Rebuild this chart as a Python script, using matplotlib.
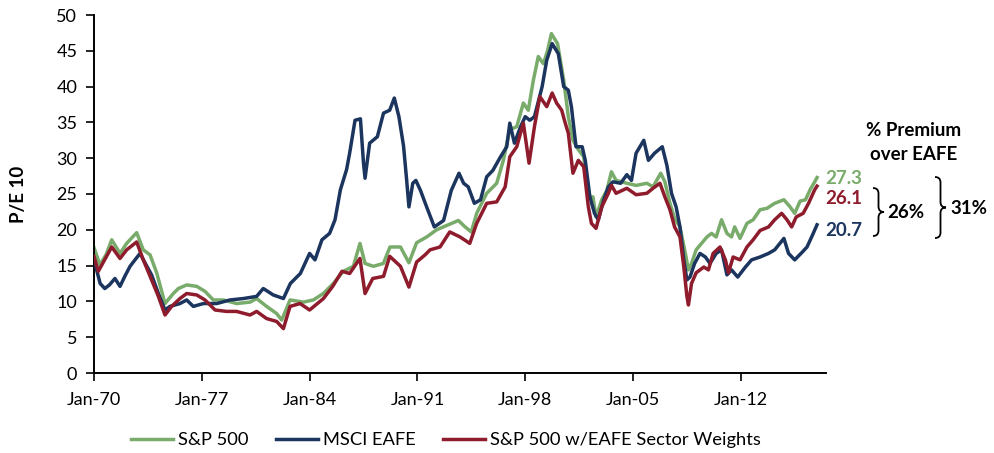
import matplotlib
matplotlib.use("Agg")
import matplotlib.pyplot as plt
from matplotlib.path import Path
from matplotlib.patches import PathPatch

plt.rcParams['font.family'] = ['Lato', 'DejaVu Sans']

# ---------------- data ----------------
sp_dates = [1970.0, 1970.39, 1970.8, 1971.15, 1971.69, 1972.12, 1972.77, 1973.2, 1973.64, 1974.07,
            1974.61, 1975.15, 1975.48, 1976.02, 1976.67, 1977.21, 1977.75, 1978.4, 1979.26, 1980.13,
            1980.56, 1981.21, 1981.86, 1982.19, 1982.73, 1983.6, 1984.24, 1984.89, 1985.54, 1986.19,
            1986.84, 1987.27, 1987.6, 1988.14, 1988.79, 1989.22, 1989.9, 1990.45, 1990.95, 1991.6,
            1992.25, 1992.9, 1993.66, 1994.1, 1994.5, 1994.85, 1995.5, 1996.15, 1996.58, 1997.0,
            1997.45, 1997.88, 1998.2, 1998.53, 1998.85, 1999.18, 1999.45, 1999.7, 2000.1, 2000.5,
            2000.8, 2001.1, 2001.45, 2001.8, 2002.1, 2002.4, 2002.6, 2002.97, 2003.3, 2003.6,
            2003.9, 2004.6, 2005.2, 2005.9, 2006.3, 2006.8, 2007.07, 2007.4, 2007.7, 2008.05,
            2008.4, 2008.6, 2008.8, 2009.1, 2009.45, 2009.8, 2010.1, 2010.4, 2010.75, 2011.1,
            2011.4, 2011.6, 2011.95, 2012.4, 2012.8, 2013.25, 2013.7, 2014.2, 2014.8, 2015.2,
            2015.5, 2015.85, 2016.2, 2016.5, 2016.8, 2016.95]
sp_vals = [17.5, 15.1, 16.6, 18.6, 16.7, 18.1, 19.6, 17.2, 16.5, 14.0,
           9.7, 11.1, 11.8, 12.3, 12.1, 11.4, 10.2, 10.2, 9.7, 9.9,
           10.4, 9.3, 8.3, 7.4, 10.2, 9.9, 10.2, 11.1, 12.5, 14.2,
           14.9, 18.1, 15.3, 14.9, 15.3, 17.6, 17.6, 15.4, 18.2, 19.0,
           20.0, 20.6, 21.3, 20.4, 19.7, 22.3, 25.1, 26.5, 29.7, 34.0,
           34.4, 37.7, 36.7, 40.9, 44.2, 43.2, 45.0, 47.4, 46.0, 40.9,
           35.8, 32.5, 31.2, 30.2, 24.6, 24.6, 21.8, 24.2, 25.5, 28.1,
           26.9, 26.5, 26.2, 26.5, 26.0, 27.9, 26.7, 23.7, 21.6, 20.4,
           16.7, 14.4, 15.3, 17.2, 18.1, 19.0, 19.5, 19.0, 21.4, 19.5,
           19.0, 20.4, 18.8, 20.9, 21.4, 22.8, 23.0, 23.7, 24.2, 23.2,
           22.3, 24.0, 24.2, 25.6, 26.7, 27.3]

eafe_dates = [1970.0, 1970.4, 1970.7, 1971.0, 1971.36, 1971.69, 1972.0, 1972.34, 1972.66, 1972.99,
              1973.31, 1973.74, 1974.18, 1974.61, 1974.93, 1975.58, 1976.02, 1976.45, 1977.1, 1977.97,
              1978.83, 1979.7, 1980.56, 1980.99, 1981.64, 1982.3, 1982.75, 1983.4, 1983.7, 1984.0,
              1984.35, 1984.8, 1985.3, 1985.65, 1986.0, 1986.4, 1986.6, 1986.95, 1987.3, 1987.5,
              1987.6, 1987.9, 1988.4, 1988.8, 1989.2, 1989.5, 1989.8, 1990.1, 1990.3, 1990.45,
              1990.7, 1990.9, 1991.2, 1991.6, 1992.1, 1992.7, 1993.2, 1993.7, 1994.0, 1994.3,
              1994.7, 1995.1, 1995.5, 1995.9, 1996.4, 1996.8, 1997.0, 1997.3, 1997.7, 1998.0,
              1998.3, 1998.6, 1999.1, 1999.4, 1999.75, 2000.15, 2000.5, 2000.8, 2001.0, 2001.3,
              2001.7, 2001.9, 2002.2, 2002.5, 2002.75, 2003.1, 2003.4, 2003.7, 2004.2, 2004.6,
              2004.9, 2005.2, 2005.7, 2006.0, 2006.4, 2006.9, 2007.2, 2007.5, 2007.8, 2008.05,
              2008.3, 2008.5, 2008.7, 2009.0, 2009.35, 2009.7, 2010.0, 2010.4, 2010.75, 2011.1,
              2011.4, 2011.8, 2012.3, 2012.7, 2013.25, 2013.8, 2014.2, 2014.8, 2015.1, 2015.5,
              2016.0, 2016.3, 2016.6, 2016.95]
eafe_vals = [15.8, 12.5, 11.8, 12.3, 13.2, 12.1, 13.5, 14.9, 15.8, 16.7,
             15.4, 13.7, 11.1, 8.8, 9.3, 9.7, 10.2, 9.3, 9.7, 9.7,
             10.2, 10.4, 10.7, 11.8, 10.9, 10.4, 12.5, 13.9, 15.3, 16.7,
             15.8, 18.6, 19.5, 21.4, 25.6, 28.4, 30.7, 35.3, 35.5, 29.3,
             27.2, 32.1, 33.0, 36.3, 36.7, 38.4, 35.8, 31.7, 27.0, 23.2,
             26.5, 26.9, 25.5, 23.2, 20.4, 21.3, 25.5, 27.9, 26.5, 26.0,
             23.7, 24.2, 27.4, 28.3, 30.2, 31.6, 34.9, 32.1, 34.4, 35.8,
             35.3, 35.8, 40.0, 43.7, 46.0, 44.6, 40.0, 39.5, 37.2, 31.6,
             31.6, 29.7, 24.6, 22.3, 21.4, 24.2, 26.0, 26.7, 26.5, 27.7,
             26.9, 30.7, 32.5, 29.7, 30.7, 31.6, 29.0, 25.1, 23.2, 20.4,
             15.8, 13.0, 13.4, 15.3, 16.7, 16.2, 15.3, 16.7, 17.2, 13.7,
             14.4, 13.4, 14.8, 15.8, 16.2, 16.7, 17.2, 18.8, 16.7, 15.8,
             16.9, 17.6, 19.0, 20.7]

spw_dates = [1970.0, 1970.28, 1971.15, 1971.69, 1972.12, 1972.77, 1973.2, 1973.74, 1974.18, 1974.61,
             1975.04, 1975.58, 1976.02, 1976.67, 1977.21, 1977.86, 1978.61, 1979.26, 1980.13, 1980.56,
             1981.21, 1981.86, 1982.3, 1982.73, 1983.38, 1984.0, 1984.9, 1985.5, 1986.1, 1986.6,
             1987.27, 1987.6, 1988.1, 1988.8, 1989.2, 1989.9, 1990.45, 1990.95, 1991.5, 1991.82,
             1992.47, 1993.1, 1993.77, 1994.4, 1994.85, 1995.5, 1996.15, 1996.7, 1997.0, 1997.45,
             1997.88, 1998.25, 1998.6, 1998.95, 1999.4, 1999.75, 2000.04, 2000.37, 2000.6, 2000.8,
             2001.1, 2001.45, 2001.8, 2002.1, 2002.3, 2002.6, 2002.97, 2003.4, 2003.6, 2003.9,
             2004.6, 2005.2, 2005.9, 2006.3, 2006.75, 2007.07, 2007.4, 2007.7, 2008.05, 2008.3,
             2008.5, 2008.6, 2008.8, 2009.1, 2009.6, 2009.9, 2010.2, 2010.65, 2011.0, 2011.2,
             2011.5, 2011.95, 2012.4, 2012.8, 2013.25, 2013.8, 2014.2, 2014.65, 2015.0, 2015.3,
             2015.6, 2016.05, 2016.4, 2016.8, 2016.95]
spw_vals = [16.3, 14.2, 17.6, 16.0, 17.2, 18.3, 15.8, 13.0, 10.7, 8.1,
            9.3, 10.4, 11.1, 10.9, 10.2, 8.8, 8.6, 8.6, 8.1, 8.6,
            7.6, 7.2, 6.2, 9.3, 9.7, 8.8, 10.4, 12.1, 14.2, 13.9,
            16.0, 11.1, 13.2, 13.5, 16.3, 14.9, 12.0, 15.5, 16.5, 17.2,
            17.6, 19.7, 19.0, 18.1, 20.9, 23.7, 23.9, 26.0, 30.2, 31.6,
            34.9, 29.3, 34.4, 38.6, 37.2, 39.1, 37.7, 36.7, 34.9, 33.5,
            27.9, 29.7, 28.8, 23.2, 20.9, 20.2, 23.2, 25.1, 26.2, 25.1,
            25.8, 24.9, 25.1, 25.8, 26.5, 24.6, 22.8, 20.4, 19.0, 14.8,
            10.7, 9.5, 12.5, 14.0, 14.8, 14.4, 16.7, 17.6, 15.8, 14.0,
            16.2, 15.8, 17.6, 18.6, 19.9, 20.4, 21.4, 22.3, 21.4, 20.4,
            21.8, 22.3, 23.7, 25.6, 26.1]

series_names = ["S&P 500", "MSCI EAFE", "S&P 500 w/EAFE Sector Weights"]
end_labels = ["27.3", "26.1", "20.7"]
premium_labels = ["26%", "31%"]
tick_years = [1970, 1977, 1984, 1991, 1998, 2005, 2012]
tick_labels = ["Jan-70", "Jan-77", "Jan-84", "Jan-91", "Jan-98", "Jan-05", "Jan-12"]

GREEN = "#79AB6B"
BLUE = "#1B355E"
RED = "#8E1C2C"

W, H = 994, 453
fig = plt.figure(figsize=(W / 100, H / 100), dpi=100)
ax = fig.add_axes([94 / W, 80 / H, 731.5 / W, 358 / H])

lw = 2.5
ln_sp, = ax.plot(sp_dates, sp_vals, color=GREEN, lw=lw, label=series_names[0], zorder=2)
ln_eafe, = ax.plot(eafe_dates, eafe_vals, color=BLUE, lw=lw, label=series_names[1], zorder=3)
ln_spw, = ax.plot(spw_dates, spw_vals, color=RED, lw=lw, label=series_names[2], zorder=4)

ax.set_xlim(1970, 2017.5)
ax.set_ylim(0, 50)
ax.set_yticks(range(0, 51, 5))
ax.set_xticks(tick_years)
ax.set_xticklabels(tick_labels)
for s in ["top", "right"]:
    ax.spines[s].set_visible(False)
for s in ["left", "bottom"]:
    ax.spines[s].set_linewidth(1.4)
    ax.spines[s].set_color("black")
ax.tick_params(axis="both", direction="out", length=6, width=1.2, labelsize=13,
               colors="black")
ax.tick_params(axis="y", pad=6)
ax.tick_params(axis="x", pad=8)
ax.set_ylabel("P/E 10", fontsize=13.5, fontweight="bold")
ax.yaxis.set_label_coords((27 - 94) / 731.5, 0.5)

fig.legend(handles=[ln_sp, ln_eafe, ln_spw], loc="center", bbox_to_anchor=(446 / W, 1 - 440 / H),
           ncol=3, frameon=False, fontsize=13.2, handlelength=2.3, columnspacing=1.5,
           handletextpad=0.25)

# overlay in pixel coords for annotations
ov = fig.add_axes([0, 0, 1, 1], facecolor="none")
ov.set_xlim(0, W)
ov.set_ylim(H, 0)
ov.axis("off")


def brace(x0, y0, y1, w, lw=1.3):
    ym = (y0 + y1) / 2
    r = min(w / 2, (y1 - y0) / 4)
    xm = x0 + w / 2
    verts = [(x0, y0), (xm, y0), (xm, y0 + r), (xm, ym - r), (xm, ym), (x0 + w, ym),
             (xm, ym), (xm, ym + r), (xm, y1 - r), (xm, y1), (x0, y1)]
    codes = [Path.MOVETO, Path.CURVE3, Path.CURVE3, Path.LINETO, Path.CURVE3, Path.CURVE3,
             Path.CURVE3, Path.CURVE3, Path.LINETO, Path.CURVE3, Path.CURVE3]
    ov.add_patch(PathPatch(Path(verts, codes), fill=False, lw=lw, color="black"))


fs = 13.5
ov.text(914, 130, "% Premium", ha="center", va="center", fontsize=fs, fontweight="bold")
ov.text(914, 155, "over EAFE", ha="center", va="center", fontsize=fs, fontweight="bold")
ov.text(825, 179, end_labels[0], ha="left", va="center", fontsize=fs, fontweight="bold", color=GREEN)
ov.text(825, 199, end_labels[1], ha="left", va="center", fontsize=fs, fontweight="bold", color=RED)
ov.text(825, 231, end_labels[2], ha="left", va="center", fontsize=fs, fontweight="bold", color=BLUE)
brace(873, 188, 236, 11)
ov.text(887, 213, premium_labels[0], ha="left", va="center", fontsize=fs, fontweight="bold")
brace(935, 177, 238, 11)
ov.text(950, 209, premium_labels[1], ha="left", va="center", fontsize=fs, fontweight="bold")

fig.savefig("out.png", dpi=100)
